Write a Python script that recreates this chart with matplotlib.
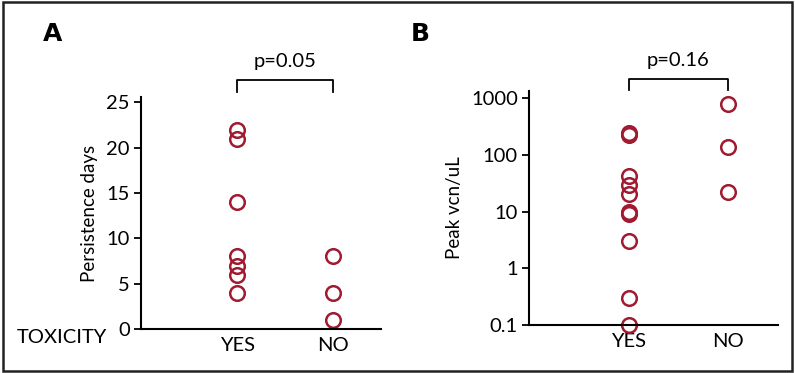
import numpy as np
import matplotlib
matplotlib.use('Agg')
import matplotlib.pyplot as plt
from matplotlib.patches import Rectangle

plt.rcParams['font.family'] = ['Lato', 'DejaVu Sans']

groups = ['YES', 'NO']
persist_yes = [22, 21, 14, 8, 7, 6, 4]
persist_no = [8, 4, 1]
peak_yes = [240, 225, 42, 30, 20, 10, 9, 3, 0.3, 0.1]
peak_no = [800, 140, 22]
pvals = ['p=0.05', 'p=0.16']

red = '#a01a30'
fs = 14.5

fig = plt.figure(figsize=(7.95, 3.73), dpi=100)
axA = fig.add_axes([0.1774, 0.118, 0.3019, 0.622])
axB = fig.add_axes([0.6654, 0.1287, 0.3132, 0.627])


def style(ax):
    for s in ['top', 'right']:
        ax.spines[s].set_visible(False)
    for s in ['left', 'bottom']:
        ax.spines[s].set_linewidth(1.5)
    ax.tick_params(axis='y', which='major', length=5, width=1.3, labelsize=fs, pad=3)
    ax.tick_params(axis='y', which='minor', length=0)
    ax.tick_params(axis='x', length=0, labelsize=fs, pad=6)
    ax.set_xticks([1, 2])
    ax.set_xticklabels(groups)
    ax.set_xlim(0, 2.5)


def dots(ax, yes, no):
    ax.plot([1] * len(yes), yes, 'o', ms=10.5, mfc='none', mec=red, mew=1.8, clip_on=False)
    ax.plot([2] * len(no), no, 'o', ms=10.5, mfc='none', mec=red, mew=1.8, clip_on=False)


def bracket(ax, y0, y1, text):
    ax.plot([1, 1, 2, 2], [y0, y1, y1, y0], color='black', lw=1.3, clip_on=False)
    ax.annotate(text, (1.5, y1), xytext=(0, 7), textcoords='offset points',
                ha='center', va='bottom', fontsize=fs, annotation_clip=False)


# panel A
style(axA)
dots(axA, persist_yes, persist_no)
axA.set_ylim(0, 25.6)
axA.set_yticks([0, 5, 10, 15, 20, 25])
axA.set_ylabel('Persistence days', fontsize=13.5, labelpad=6)
bracket(axA, 26.1, 27.5, pvals[0])
axA.text(-0.517, -0.055, 'TOXICITY', transform=axA.get_yaxis_transform(),
         ha='left', va='top', fontsize=fs)
fig.text(0.066, 0.91, 'A', fontsize=18, fontweight='bold', ha='center', va='center',
         family=['DejaVu Sans'])

# panel B
style(axB)
axB.set_yscale('log')
dots(axB, peak_yes, peak_no)
axB.set_ylim(0.1, 1330)
axB.set_yticks([0.1, 1, 10, 100, 1000])
axB.set_yticklabels(['0.1', '1', '10', '100', '1000'])
axB.set_ylabel('Peak vcn/uL', fontsize=13.5, labelpad=6)
bracket(axB, 1380, 2160, pvals[1])
fig.text(0.528, 0.91, 'B', fontsize=18, fontweight='bold', ha='center', va='center',
         family=['DejaVu Sans'])

fig.patches.append(Rectangle((0.004, 0.006), 0.992, 0.988, transform=fig.transFigure,
                             fill=False, edgecolor='#222222', lw=1.8))

fig.savefig('out.png', dpi=100)
